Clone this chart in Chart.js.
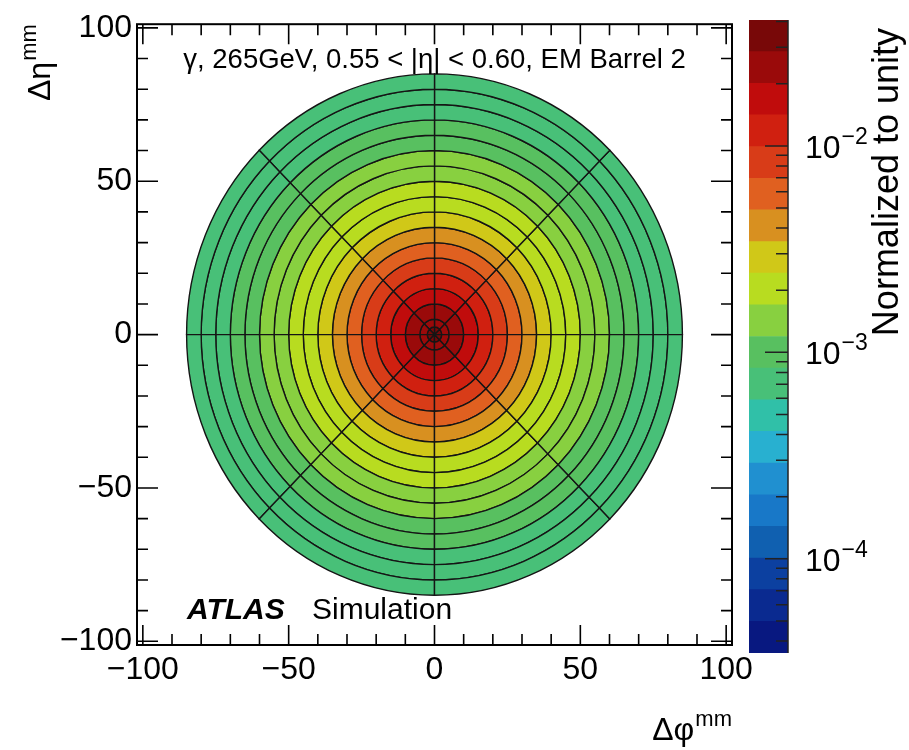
<!DOCTYPE html>
<html>
<head>
<meta charset="utf-8">
<script src="https://cdn.jsdelivr.net/npm/chart.js@4.4.1/dist/chart.umd.min.js"></script>
<style>
html,body{margin:0;padding:0;background:#fff;}
#wrap{position:relative;width:909px;height:750px;overflow:hidden;}
#main{position:absolute;left:0;top:0;}
#zbar{position:absolute;left:740px;top:0;}
</style>
</head>
<body>
<div id="wrap">
<canvas id="main" width="909" height="750"></canvas>
<canvas id="zbar" width="169" height="750"></canvas>
</div>
<script>
// radial bin edges (mm) and angular sector edges (deg)
const ringEdges=[0,2.5,5,10,15,20,25,30,35,40,45,50,55,60,65,70,75,80,85];
const sectorEdges=[0,45,90,135,180,225,270,315,360];
// normalised energy fraction per ring (same in every sector)
const ringValues=[0.035,0.025,0.022,0.016,0.012,0.0082,0.0058,0.0041,0.0029,0.0021,0.0019,0.0015,0.0013,0.0010,0.00092,0.00075,0.00070,0.00066];

const xTicks=[-100,-50,0,50,100];
const yTicks=[-100,-50,0,50,100];
const zExponents=[-2,-3,-4];
const zMin=3.5e-5, zMax=0.0407;

// 20 contour colours, lowest first
const palette=['#081880','#0a2a90','#0c40a0','#1060b0','#1878c8','#2090d0','#28b0d0','#30c0a8','#48c078','#58c060',
'#88d040','#b8dc20','#d0c818','#d89020','#e06020','#d83c18','#d02010','#c00c0c','#9a0a0a','#780808'];

const FONT="'Liberation Sans', Arial, Helvetica, sans-serif";
const title='γ, 265GeV, 0.55 < |η| < 0.60, EM Barrel 2';

function fmt(v){return v<0?'\u2212'+Math.abs(v):String(v);}

function colourFor(v){
  const f=(Math.log10(v)-Math.log10(zMin))/(Math.log10(zMax)-Math.log10(zMin));
  let k=Math.floor(f*palette.length);
  if(k<0)k=0; if(k>palette.length-1)k=palette.length-1;
  return palette[k];
}

// text with a superscript part, drawn left to right from x
function supText(ctx,base,sup,x,y,size,supSize,rise){
  ctx.font=size+'px '+FONT;
  ctx.fillText(base,x,y);
  const w=ctx.measureText(base).width;
  ctx.font=supSize+'px '+FONT;
  ctx.fillText(sup,x+w+1,y-rise);
  return w+1+ctx.measureText(sup).width;
}
function supWidth(ctx,base,sup,size,supSize){
  ctx.font=size+'px '+FONT;
  const w=ctx.measureText(base).width;
  ctx.font=supSize+'px '+FONT;
  return w+1+ctx.measureText(sup).width;
}

const polarBins={
  id:'polarBins',
  beforeDatasetsDraw(chart){
    const {ctx,chartArea:a,scales:{x,y}}=chart;
    const cx=x.getPixelForValue(0), cy=y.getPixelForValue(0);
    const kx=x.getPixelForValue(1)-cx, ky=cy-y.getPixelForValue(1);
    ctx.save();
    ctx.beginPath();ctx.rect(a.left,a.top,a.width,a.height);ctx.clip();
    ctx.lineWidth=1.4;
    ctx.strokeStyle='#151515';
    for(let i=0;i<ringValues.length;i++){
      const r0=ringEdges[i], r1=ringEdges[i+1];
      for(let j=0;j<sectorEdges.length-1;j++){
        const a0=sectorEdges[j]*Math.PI/180, a1=sectorEdges[j+1]*Math.PI/180;
        ctx.beginPath();
        ctx.ellipse(cx,cy,r1*kx,r1*ky,0,-a0,-a1,true);
        if(r0>0) ctx.ellipse(cx,cy,r0*kx,r0*ky,0,-a1,-a0,false);
        else ctx.lineTo(cx,cy);
        ctx.closePath();
        ctx.fillStyle=colourFor(ringValues[i]);
        ctx.fill();
        ctx.stroke();
      }
    }
    ctx.restore();
  },
  afterDraw(chart){
    const {ctx,chartArea:a,scales:{x,y}}=chart;
    ctx.save();
    ctx.strokeStyle='#000';
    ctx.lineWidth=2;
    ctx.strokeRect(a.left,a.top,a.width,a.height);
    ctx.lineWidth=1.6;
    ctx.beginPath();
    for(let v=-100;v<=100;v+=10){
      const big=v%50===0;
      const lx=big?20:11, ly=big?21:11;
      const px=x.getPixelForValue(v);
      ctx.moveTo(px,a.bottom);ctx.lineTo(px,a.bottom-lx);
      ctx.moveTo(px,a.top);ctx.lineTo(px,a.top+lx);
      const py=y.getPixelForValue(v);
      ctx.moveTo(a.left,py);ctx.lineTo(a.left+ly,py);
      ctx.moveTo(a.right,py);ctx.lineTo(a.right-ly,py);
    }
    ctx.stroke();

    ctx.fillStyle='#000';
    ctx.textBaseline='alphabetic';
    ctx.font='27.5px '+FONT;
    ctx.textAlign='center';
    ctx.fillText(title,(a.left+a.right)/2,68);

    ctx.textAlign='left';
    ctx.font='italic bold 30px '+FONT;
    ctx.fillText('ATLAS',187,619);
    ctx.font='30px '+FONT;
    ctx.fillText('Simulation',312,619);

    // x axis title, right aligned at the frame end
    const wx=supWidth(ctx,'Δφ','mm',32,22);
    supText(ctx,'Δφ','mm',a.right-wx,740,32,22,14);

    // y axis title, rotated
    ctx.translate(50,a.top);
    ctx.rotate(-Math.PI/2);
    const wy=supWidth(ctx,'Δη','mm',32,22);
    supText(ctx,'Δη','mm',-wy,0,32,22,14);
    ctx.restore();
  }
};

new Chart(document.getElementById('main'),{
  type:'scatter',
  data:{datasets:[{data:[]}]},
  options:{
    responsive:false,animation:false,devicePixelRatio:1,
    layout:{padding:{left:0,right:177,top:22,bottom:0}},
    plugins:{legend:{display:false},tooltip:{enabled:false}},
    scales:{
      x:{type:'linear',min:-102,max:102,
        afterBuildTicks:s=>{s.ticks=xTicks.map(v=>({value:v}));},
        afterFit:s=>{s.height=105;},
        grid:{display:false,drawTicks:false},border:{display:false},
        ticks:{color:'#000',padding:6,maxRotation:0,autoSkip:false,font:{family:FONT,size:32},callback:v=>fmt(v)}},
      y:{type:'linear',min:-101.2,max:101.2,
        afterBuildTicks:s=>{s.ticks=yTicks.map(v=>({value:v}));},
        afterFit:s=>{s.width=137;},
        grid:{display:false,drawTicks:false},border:{display:false},
        ticks:{color:'#000',padding:5,autoSkip:false,font:{family:FONT,size:32},callback:v=>fmt(v)}}
    }
  },
  plugins:[polarBins]
});

// colour scale: one floating bar per contour level
const lzMin=Math.log10(zMin), lzMax=Math.log10(zMax);
const levels=palette.map((c,i)=>[Math.pow(10,lzMin+(lzMax-lzMin)*i/palette.length),Math.pow(10,lzMin+(lzMax-lzMin)*(i+1)/palette.length)]);

const zAxisDeco={
  id:'zAxisDeco',
  afterDraw(chart){
    const {ctx,chartArea:a,scales:{y}}=chart;
    ctx.save();
    ctx.strokeStyle='#222';
    ctx.lineWidth=1.5;
    ctx.beginPath();
    ctx.moveTo(a.right,a.top);ctx.lineTo(a.right,a.bottom);
    for(let e=-5;e<=-1;e++){
      for(let m=1;m<=9;m++){
        const v=m*Math.pow(10,e);
        if(v<zMin||v>zMax)continue;
        const py=y.getPixelForValue(v);
        ctx.moveTo(a.right,py);ctx.lineTo(a.right-(m===1?23:12),py);
      }
    }
    ctx.stroke();
    ctx.fillStyle='#000';
    ctx.textAlign='left';
    ctx.textBaseline='alphabetic';
    zExponents.forEach(e=>{
      const py=y.getPixelForValue(Math.pow(10,e));
      supText(ctx,'10','\u2212'+Math.abs(e),a.right+17,py+12,32,23,14);
    });
    ctx.translate(158,a.top);
    ctx.rotate(-Math.PI/2);
    ctx.font='36px '+FONT;
    ctx.textAlign='right';
    ctx.fillText('Normalized to unity',-8,0);
    ctx.restore();
  }
};

new Chart(document.getElementById('zbar'),{
  type:'bar',
  data:{labels:['z'],datasets:levels.map((lv,i)=>({data:[lv],backgroundColor:palette[i],borderWidth:0,grouped:false,barPercentage:1,categoryPercentage:1}))},
  options:{
    responsive:false,animation:false,devicePixelRatio:1,
    layout:{padding:{left:9,right:0,top:20,bottom:97}},
    plugins:{legend:{display:false},tooltip:{enabled:false}},
    scales:{
      x:{display:false},
      y:{type:'logarithmic',position:'right',min:zMin,max:zMax,
        afterFit:s=>{s.width=121;},
        grid:{display:false,drawTicks:false},border:{display:false},
        ticks:{display:false}}
    }
  },
  plugins:[zAxisDeco]
});
</script>
</body>
</html>
